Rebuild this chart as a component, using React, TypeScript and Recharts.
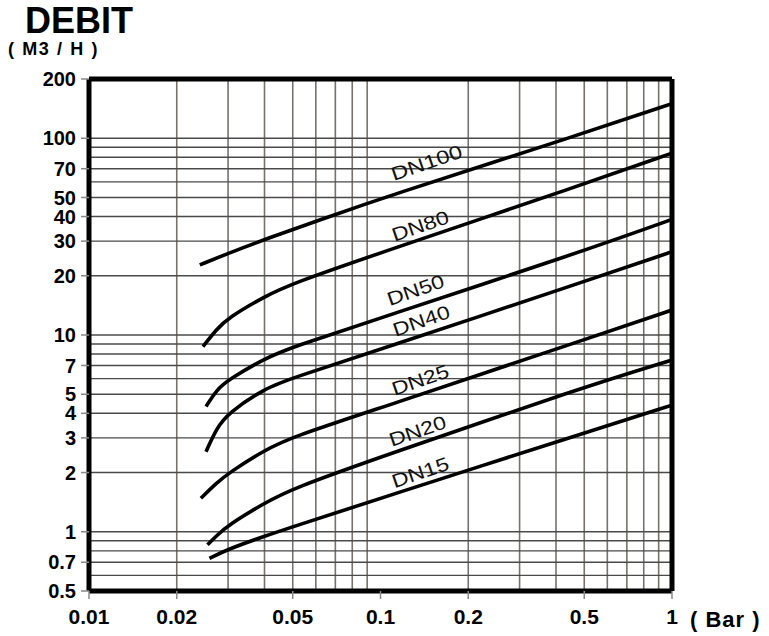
// Abaque débit / perte de charge (DN15..DN100), axes log-log, recharts.
import { LineChart, Line, XAxis, YAxis, ReferenceLine, ReferenceDot } from "recharts";

const FONT = "'Liberation Sans', Arial, sans-serif";

const dn100 = [
  { x: 0.024, y: 22.7 }, { x: 0.03, y: 26.0 }, { x: 0.042, y: 31.4 },
  { x: 0.062, y: 38.4 }, { x: 0.1, y: 49.5 }, { x: 0.5, y: 106 }, { x: 1, y: 150 },
];
const dn80 = [
  { x: 0.0246, y: 8.73 }, { x: 0.0274, y: 10.7 }, { x: 0.03, y: 12.2 }, { x: 0.04, y: 15.7 },
  { x: 0.05, y: 18.3 }, { x: 0.1, y: 26.2 }, { x: 0.5, y: 58.5 }, { x: 1, y: 84 },
];
const dn50 = [
  { x: 0.0252, y: 4.33 }, { x: 0.0274, y: 5.26 }, { x: 0.03, y: 5.9 }, { x: 0.04, y: 7.6 },
  { x: 0.05, y: 8.7 }, { x: 0.1, y: 12.2 }, { x: 0.5, y: 26.8 }, { x: 1, y: 38.7 },
];
const dn40 = [
  { x: 0.0252, y: 2.55 }, { x: 0.0274, y: 3.36 }, { x: 0.03, y: 4.0 }, { x: 0.04, y: 5.35 },
  { x: 0.05, y: 6.05 }, { x: 0.1, y: 8.46 }, { x: 0.5, y: 18.7 }, { x: 1, y: 26.5 },
];
const dn25 = [
  { x: 0.0242, y: 1.48 }, { x: 0.0274, y: 1.77 }, { x: 0.03, y: 1.98 }, { x: 0.04, y: 2.6 },
  { x: 0.05, y: 3.04 }, { x: 0.1, y: 4.26 }, { x: 0.5, y: 9.47 }, { x: 1, y: 13.4 },
];
const dn20 = [
  { x: 0.0255, y: 0.858 }, { x: 0.0274, y: 0.955 }, { x: 0.03, y: 1.08 }, { x: 0.04, y: 1.4 },
  { x: 0.05, y: 1.66 }, { x: 0.1, y: 2.4 }, { x: 0.5, y: 5.45 }, { x: 1, y: 7.46 },
];
const dn15 = [
  { x: 0.0259, y: 0.733 }, { x: 0.03, y: 0.816 }, { x: 0.04, y: 0.95 }, { x: 0.05, y: 1.06 },
  { x: 0.1, y: 1.48 }, { x: 0.5, y: 3.18 }, { x: 1, y: 4.4 },
];
const curves = [dn100, dn80, dn50, dn40, dn25, dn20, dn15];

const curveLabels = [
  { name: "DN100", x: 0.144, y: 75 },
  { name: "DN80", x: 0.137, y: 35.8 },
  { name: "DN50", x: 0.132, y: 16.9 },
  { name: "DN40", x: 0.138, y: 11.8 },
  { name: "DN25", x: 0.137, y: 5.9 },
  { name: "DN20", x: 0.134, y: 3.25 },
  { name: "DN15", x: 0.137, y: 2.0 },
];

const xTicks = [0.01, 0.02, 0.05, 0.1, 0.2, 0.5, 1];
const yTicks = [0.5, 0.7, 1, 2, 3, 4, 5, 7, 10, 20, 30, 40, 50, 70, 100, 200];
const xGrid = [0.02, 0.03, 0.04, 0.05, 0.06, 0.07, 0.08, 0.09, 0.2, 0.3, 0.4, 0.5, 0.6, 0.7, 0.8, 0.9];
const yGrid = [0.6, 0.7, 0.8, 0.9, 1, 2, 3, 4, 5, 6, 7, 8, 9, 10, 20, 30, 40, 50, 60, 70, 80, 90, 100];

const rotatedLabel = (text: string) => (p: any) => (
  <text x={p.cx} y={p.cy} transform={`rotate(-19 ${p.cx} ${p.cy})`} textAnchor="middle"
        dominantBaseline="central" fontFamily={FONT} fontSize={19} fill="#111"
        textLength={text.length * 14.8} lengthAdjust="spacingAndGlyphs">{text}</text>
);

export default function App() {
  return (
    <div style={{ position: "fixed", left: 0, top: 0, width: 769, height: 636, background: "#fff", fontFamily: FONT }}>
      <div style={{ position: "absolute", left: 25, top: 3, fontSize: 36, fontWeight: 700, lineHeight: 1 }}>DEBIT</div>
      <div style={{ position: "absolute", left: 8, top: 40, fontSize: 18, fontWeight: 700, lineHeight: 1, whiteSpace: "pre", letterSpacing: 1.6 }}>
        {"( M3 / H )"}
      </div>
      <div style={{ position: "absolute", left: 690, top: 609, fontSize: 22, fontWeight: 700, lineHeight: 1, whiteSpace: "pre", letterSpacing: 1 }}>
        {"( Bar )"}
      </div>
      <LineChart width={769} height={636} margin={{ top: 79, right: 97, bottom: 0, left: 0 }}>
        <XAxis dataKey="x" type="number" scale="log" domain={[0.01, 1]} ticks={xTicks} allowDataOverflow interval={0}
               height={45} axisLine={false} tickLine={{ stroke: "#888", strokeWidth: 1.5 }} tickSize={8} tickMargin={10}
               tickFormatter={(v: number) => String(v)}
               tick={{ fontSize: 21, fontWeight: 700, fill: "#000", fontFamily: FONT }} />
        <YAxis dataKey="y" type="number" scale="log" domain={[0.5, 200]} ticks={yTicks} allowDataOverflow interval={0}
               width={89} axisLine={false} tickLine={{ stroke: "#888", strokeWidth: 1.5 }} tickSize={8} tickMargin={5}
               tickFormatter={(v: number) => String(v)}
               tick={{ fontSize: 20, fontWeight: 700, fill: "#000", fontFamily: FONT }} />
        {xGrid.map((v) => <ReferenceLine key={`vx${v}`} x={v} stroke="#77726c" strokeWidth={1.6} />)}
        {yGrid.map((v) => <ReferenceLine key={`hy${v}`} y={v} stroke="#4a4a4a" strokeWidth={1.4} />)}
        {curves.map((d, i) => (
          <Line key={i} data={d} dataKey="y" type="basis" stroke="#000" strokeWidth={3.6}
                dot={false} activeDot={false} isAnimationActive={false} />
        ))}
        {curveLabels.map((l) => (
          <ReferenceDot key={l.name} x={l.x} y={l.y} r={0} shape={rotatedLabel(l.name)} />
        ))}
        <ReferenceLine x={0.01} stroke="#000" strokeWidth={5} />
        <ReferenceLine x={1} stroke="#000" strokeWidth={5} />
        <ReferenceLine y={0.5} stroke="#000" strokeWidth={5} />
        <ReferenceLine y={200} stroke="#000" strokeWidth={5} />
      </LineChart>
    </div>
  );
}
